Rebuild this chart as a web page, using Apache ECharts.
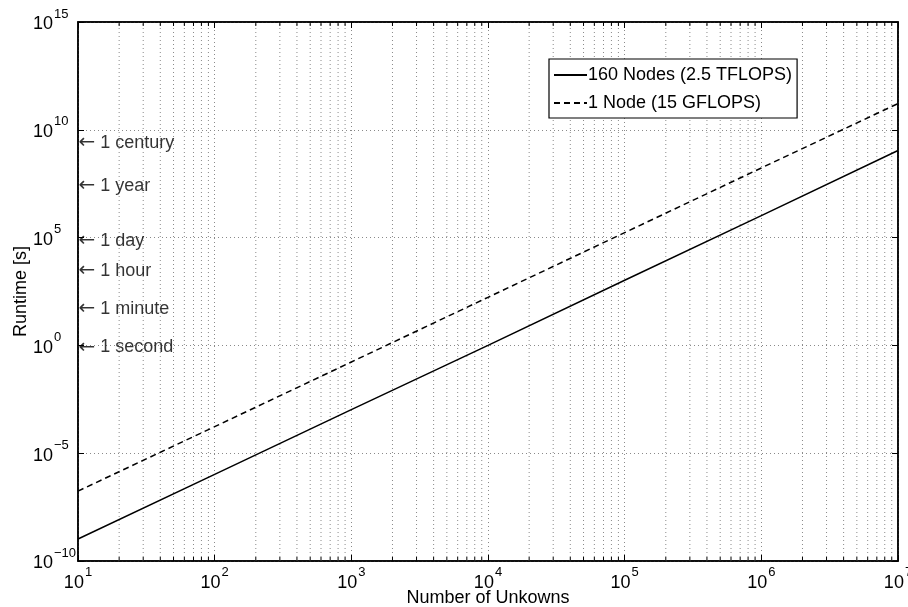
<!DOCTYPE html>
<html><head><meta charset="utf-8">
<script src="https://cdn.jsdelivr.net/npm/echarts@6/dist/echarts.min.js"></script>
<style>html,body{margin:0;padding:0;background:#fff}#c{width:908px;height:607px}</style>
</head><body><div id="c"></div>
<script>
// ---- data ----
const unknowns = [1e1, 1e2, 1e3, 1e4, 1e5, 1e6, 1e7];
const runtime160Nodes = [1.05e-9, 1.05e-6, 1.05e-3, 1.0, 1.05e3, 1.05e6, 1.1e9];
const runtime1Node = [1.75e-7, 1.7e-4, 0.17, 170, 1.7e5, 1.7e8, 1.65e11];
const seriesNames = ['160 Nodes (2.5 TFLOPS)', '1 Node (15 GFLOPS)'];
const markerLabels = ['1 century', '1 year', '1 day', '1 hour', '1 minute', '1 second'];
const markerSeconds = [3.1536e9, 3.1536e7, 86400, 3600, 60, 1];
const xTickExponents = [1, 2, 3, 4, 5, 6, 7];
const yTickExponents = [-10, -5, 0, 5, 10, 15];
const xLabel = 'Number of Unkowns';
const yLabel = 'Runtime [s]';

// minor tick positions (2..9 x 10^k)
const minorX = [];
for (let e = xTickExponents[0]; e < xTickExponents[xTickExponents.length - 1]; e++) {
  for (let m = 2; m <= 9; m++) minorX.push([m * Math.pow(10, e), 1]);
}

const FONT = 'Liberation Sans';
const GRID = '#8a8a8a';
function supFmt(v) {
  const e = Math.round(Math.log10(v));
  const s = e < 0 ? '\u2212' + (-e) : '' + e;
  return '{b|10}{s|' + s + '}';
}
const rich = {
  b: { fontSize: 18, fontFamily: FONT, color: '#000', padding: [5, 0, 0, 0] },
  s: { fontSize: 13, fontFamily: FONT, color: '#000', padding: [0, 0, 16, 1] }
};

const chart = echarts.init(document.getElementById('c'), null, { renderer: 'canvas' });
const xMin = Math.pow(10, xTickExponents[0]), xMax = Math.pow(10, xTickExponents[xTickExponents.length - 1]);
const yMin = Math.pow(10, yTickExponents[0]), yMax = Math.pow(10, yTickExponents[yTickExponents.length - 1]);

chart.setOption({
  animation: false,
  backgroundColor: '#fff',
  textStyle: { fontFamily: FONT },
  grid: { left: 78, right: 10, top: 22, bottom: 46, containLabel: false, outerBoundsMode: 'none', show: true, borderColor: '#000', borderWidth: 1.5, backgroundColor: 'transparent' },
  legend: {
    data: seriesNames,
    orient: 'vertical',
    left: 549, top: 59,
    padding: [7, 5, 6, 4],
    itemGap: 10,
    itemWidth: 33, itemHeight: 18,
    borderColor: '#000', borderWidth: 1.2,
    backgroundColor: '#fff',
    itemStyle: { opacity: 0 },
    textStyle: { fontSize: 18, fontFamily: FONT, color: '#000', lineHeight: 18, padding: [0, 0, 0, -4] }
  },
  xAxis: [{
    type: 'log', logBase: 10, min: xMin, max: xMax,
    name: xLabel, nameLocation: 'middle', nameGap: 28, nameMoveOverlap: false,
    nameTextStyle: { fontSize: 18, fontFamily: FONT, color: '#000' },
    axisLine: { show: true, lineStyle: { color: '#000', width: 1.5 } },
    axisTick: { show: true, inside: true, length: 6, lineStyle: { color: '#000', width: 1 } },
    axisLabel: { formatter: supFmt, rich: rich, margin: 5, hideOverlap: false },
    splitLine: { show: true, lineStyle: { color: GRID, width: 1, type: [1, 3] } }
  }, {
    type: 'log', logBase: 10, min: xMin, max: xMax, position: 'top',
    axisLine: { show: true, lineStyle: { color: '#000', width: 1.5 } },
    axisTick: { show: true, inside: true, length: 6, lineStyle: { color: '#000', width: 1 } },
    axisLabel: { show: false }, splitLine: { show: false }
  }],
  yAxis: [{
    type: 'log', logBase: 10, min: yMin, max: yMax, interval: 5,
    name: yLabel, nameLocation: 'middle', nameGap: 48, nameMoveOverlap: false,
    nameTextStyle: { fontSize: 18, fontFamily: FONT, color: '#000' },
    axisLine: { show: true, lineStyle: { color: '#000', width: 1.5 } },
    axisTick: { show: true, inside: true, length: 6, lineStyle: { color: '#000', width: 1 } },
    axisLabel: { formatter: supFmt, rich: rich, margin: 45, align: 'left' },
    splitLine: { show: true, lineStyle: { color: GRID, width: 1, type: [1, 3] } }
  }, {
    type: 'log', logBase: 10, min: yMin, max: yMax, interval: 5, position: 'right',
    axisLine: { show: true, lineStyle: { color: '#000', width: 1.5 } },
    axisTick: { show: true, inside: true, length: 6, lineStyle: { color: '#000', width: 1 } },
    axisLabel: { show: false }, splitLine: { show: false }
  }],
  series: [
    {
      type: 'custom', name: 'minorgrid', xAxisIndex: 0, yAxisIndex: 0, z: 1, silent: true,
      data: minorX, encode: { x: 0, y: 1 },
      renderItem: function (params, api) {
        const x = api.value(0);
        const b = api.coord([x, yMin]);
        const t = api.coord([x, yMax]);
        return {
          type: 'group', children: [
            { type: 'line', shape: { x1: b[0], y1: b[1], x2: t[0], y2: t[1] }, style: { stroke: GRID, lineWidth: 1, lineDash: [1, 3] } },
            { type: 'line', shape: { x1: b[0], y1: b[1], x2: b[0], y2: b[1] - 4 }, style: { stroke: '#000', lineWidth: 1 } },
            { type: 'line', shape: { x1: t[0], y1: t[1], x2: t[0], y2: t[1] + 4 }, style: { stroke: '#000', lineWidth: 1 } }
          ]
        };
      }
    },
    {
      name: seriesNames[0], type: 'line', symbol: 'none', z: 5,
      data: unknowns.map((x, i) => [x, runtime160Nodes[i]]),
      lineStyle: { color: '#000', width: 1.5, type: 'solid' }, itemStyle: { color: '#000' }
    },
    {
      name: seriesNames[1], type: 'line', symbol: 'none', z: 5,
      data: unknowns.map((x, i) => [x, runtime1Node[i]]),
      lineStyle: { color: '#000', width: 1.5, type: [6, 4] }, itemStyle: { color: '#000' }
    },
    {
      name: 'markers', type: 'scatter', symbolSize: 1, z: 6, silent: true,
      itemStyle: { color: 'rgba(0,0,0,0)' },
      data: markerSeconds.map((v, i) => ({ value: [xMin, v], name: markerLabels[i] })),
      label: {
        show: true, position: 'right', distance: 0, offset: [0, 2],
        formatter: p => '{a|\u2190}{t| 1' + p.name.slice(1) + '}',
        rich: {
          a: { fontSize: 20, fontFamily: 'DejaVu Sans', color: '#000' },
          t: { fontSize: 18, fontFamily: FONT, color: '#000' }
        }
      }
    }
  ]
});
</script></body></html>
